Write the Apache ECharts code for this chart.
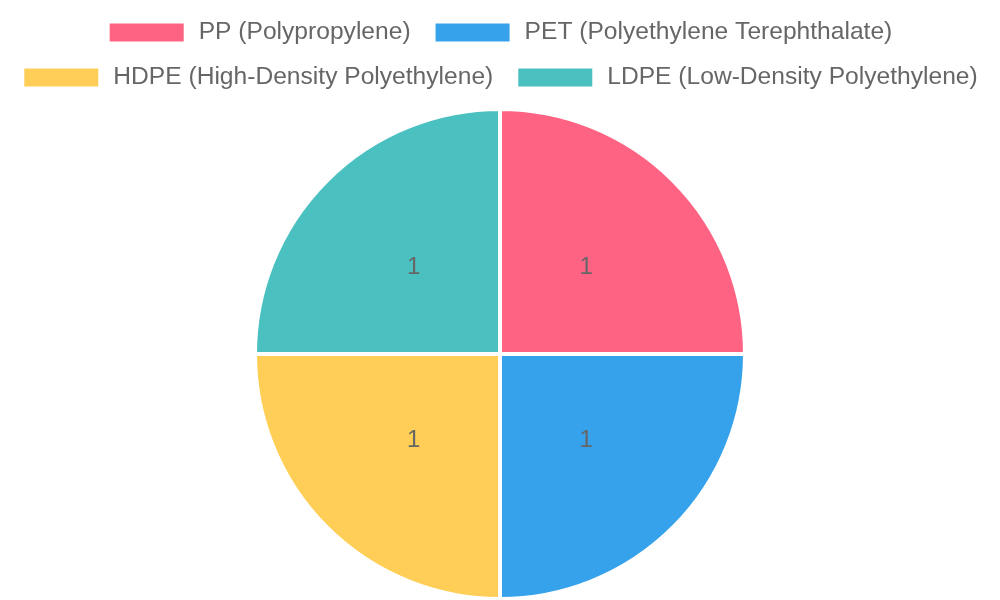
<!DOCTYPE html>
<html>
<head>
<meta charset="utf-8">
<script src="https://cdn.jsdelivr.net/npm/echarts@6/dist/echarts.min.js"></script>
<style>html,body{margin:0;padding:0;background:#fff}#c{width:1000px;height:600px}</style>
</head>
<body>
<div id="c"></div>
<script>
const categories = ["PP (Polypropylene)", "PET (Polyethylene Terephthalate)", "HDPE (High-Density Polyethylene)", "LDPE (Low-Density Polyethylene)"];
const values = [1, 1, 1, 1];
const colors = ["#FF6384", "#36A2EB", "#FFCE56", "#4BC0C0"];

const font = "'Liberation Sans', Arial, Helvetica, sans-serif";
const chart = echarts.init(document.getElementById('c'));
const legendCommon = {
  left: 'center',
  orient: 'horizontal',
  itemWidth: 76,
  itemHeight: 20,
  itemGap: 23,
  padding: 0,
  icon: 'rect',
  selectedMode: false,
  textStyle: { fontSize: 24.6, color: '#666', fontFamily: font, padding: [0, 0, 0, 9] }
};
const pieData = categories.map((n, i) => ({ name: n, value: values[i] }));
chart.setOption({
  animation: false,
  color: colors,
  legend: [
    Object.assign({}, legendCommon, { top: 20, data: categories.slice(0, 2) }),
    Object.assign({}, legendCommon, { top: 65, data: categories.slice(2, 4) })
  ],
  series: [{
    type: 'pie',
    center: [500, 354],
    radius: [0, 245],
    startAngle: 90,
    clockwise: true,
    silent: true,
    itemStyle: { borderColor: '#fff', borderWidth: 4 },
    label: { show: false },
    labelLine: { show: false },
    emphasis: { disabled: true },
    data: pieData
  }, {
    type: 'pie',
    center: [500, 354],
    radius: [0, 238],
    startAngle: 90,
    clockwise: true,
    silent: true,
    z: 3,
    itemStyle: { color: 'rgba(0,0,0,0)', borderWidth: 0 },
    label: { show: true, position: 'inside', formatter: '{c}', fontSize: 24, color: '#666', fontFamily: font },
    labelLine: { show: false },
    emphasis: { disabled: true },
    data: pieData
  }]
});
</script>
</body>
</html>
